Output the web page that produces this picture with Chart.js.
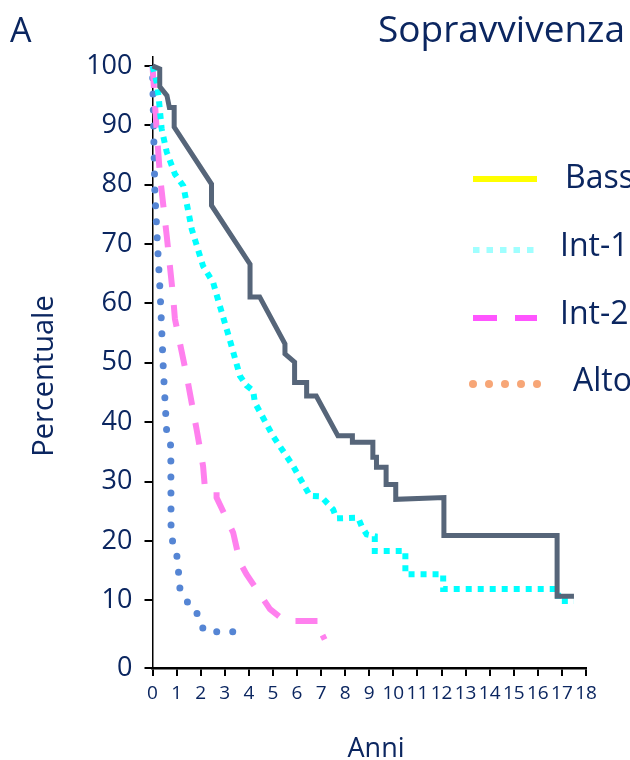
<!DOCTYPE html>
<html>
<head>
<meta charset="utf-8">
<script src="https://cdn.jsdelivr.net/npm/chart.js@4"></script>
<style>
  body { margin: 0; background: #fff; }
  canvas { display: block; }
</style>
</head>
<body>
<canvas id="chart" width="630" height="760"></canvas>
<script>
// survival curves, years (x) vs percent (y)
const bassX = [0, 0.3, 0.3, 0.6, 0.7, 0.9, 0.9, 2.45, 2.45, 4.05, 4.05, 4.45, 5.5, 5.5, 5.9, 5.9, 6.4, 6.4, 6.8, 7.7, 8.3, 8.3, 9.15, 9.15, 9.3, 9.3, 9.7, 9.7, 10.1, 10.1, 12.1, 12.1, 16.8, 16.8, 17.5];
const bassY = [100, 99.5, 96.5, 95, 93, 93, 89.7, 80.1, 76.5, 66.6, 61.1, 61.1, 53.2, 51.5, 50.1, 46.7, 46.7, 44.4, 44.4, 37.7, 37.7, 36.6, 36.6, 34.1, 34.1, 32.4, 32.4, 29.5, 29.5, 27.0, 27.3, 20.9, 20.9, 10.7, 10.7];

const int1X = [0, 0.17, 0.25, 0.38, 0.59, 0.93, 1.28, 1.63, 2.1, 2.52, 2.73, 3.2, 3.63, 3.9, 4.18, 4.25, 5.0, 5.84, 6.54, 7.0, 7.5, 7.64, 8.54, 8.68, 8.89, 9.23, 9.23, 10.5, 10.5, 12.07, 12.07, 16.84, 16.84, 17.5];
const int1Y = [100, 97.3, 95, 89.4, 85.5, 81.8, 79.8, 72.5, 66.3, 63.5, 60.5, 54, 47.8, 46.2, 45.3, 43.3, 37.7, 32.6, 27.6, 27.5, 25.3, 23.8, 23.9, 22.5, 21.1, 20.8, 18.3, 18.3, 14.4, 14.4, 11.9, 11.9, 9.9, 9.9];

const int2X = [0, 0.17, 0.31, 0.59, 0.86, 0.93, 1.42, 1.83, 2.1, 2.18, 2.66, 2.66, 3.35, 3.63, 3.9, 4.88, 5.5, 7.0, 7.0, 7.15];
const int2Y = [100, 89.4, 81.5, 71.4, 61, 57.4, 47.8, 38.8, 32.6, 28.7, 28.4, 27.3, 21.4, 16.4, 14.4, 8.5, 6.5, 6.5, 4.6, 3.4];

const altoX = [0, 0.06, 0.1, 0.2, 0.31, 0.34, 0.45, 0.59, 0.76, 0.77, 0.84, 1.03, 1.14, 1.39, 1.79, 1.93, 2.18, 3.49, 3.7];
const altoY = [100, 86.6, 78.6, 70.5, 62.4, 59.7, 48.9, 38.3, 36, 22.5, 19.7, 17.2, 11.9, 9.9, 8.8, 6.4, 4.7, 4.7, 2.9];

const seriesNames = ["Bass", "Int-1", "Int-2", "Alto"];
const xTickValues = [0, 1, 2, 3, 4, 5, 6, 7, 8, 9, 10, 11, 12, 13, 14, 15, 16, 17, 18];
const yTickValues = [0, 10, 20, 30, 40, 50, 60, 70, 80, 90, 100];

const NAVY = "#0b2660";
const FONT = "'Open Sans', 'Noto Sans', sans-serif";
const Y_MIN = -1.4;  // the zero tick sits on the x axis, a bit below the even spacing

function zip(xs, ys) {
  return xs.map((x, i) => ({ x: x, y: ys[i] }));
}

// titles and the legend are drawn by hand: legend colours differ from the lines
const decorations = {
  id: "decorations",
  afterDraw(chart) {
    const ctx = chart.ctx;
    ctx.save();
    ctx.fillStyle = NAVY;
    ctx.textBaseline = "alphabetic";
    ctx.textAlign = "left";

    ctx.font = "34px " + FONT;
    ctx.fillText("A", 10, 42);
    ctx.font = "37px " + FONT;
    ctx.fillText("Sopravvivenza", 378, 42);

    ctx.font = "27px " + FONT;
    ctx.textAlign = "center";
    ctx.fillText("Anni", 376, 757);

    ctx.save();
    ctx.translate(53, 376);
    ctx.rotate(-Math.PI / 2);
    ctx.font = "29px " + FONT;
    ctx.fillText("Percentuale", 0, 0);
    ctx.restore();

    // legend
    const x0 = 473, x1 = 537;
    const rows = [188, 256, 324, 391];
    const textX = [565, 560, 560, 573];
    ctx.lineWidth = 6;

    ctx.strokeStyle = "#ffff00";
    ctx.beginPath(); ctx.moveTo(x0, rows[0] - 9); ctx.lineTo(x1, rows[0] - 9); ctx.stroke();

    ctx.strokeStyle = "#a0ffff";
    ctx.setLineDash([6.5, 7]);
    ctx.beginPath(); ctx.moveTo(x0, rows[1] - 6); ctx.lineTo(x1, rows[1] - 6); ctx.stroke();

    ctx.strokeStyle = "#ff55ff";
    ctx.setLineDash([24, 18]);
    ctx.beginPath(); ctx.moveTo(x0, rows[2] - 6); ctx.lineTo(x1, rows[2] - 6); ctx.stroke();
    ctx.setLineDash([]);

    ctx.fillStyle = "#f7a677";
    for (let i = 0; i < 5; i++) {
      ctx.beginPath();
      ctx.arc(x0 + i * 16, rows[3] - 7, 4, 0, Math.PI * 2);
      ctx.fill();
    }

    ctx.fillStyle = NAVY;
    ctx.textAlign = "left";
    ctx.font = "32px " + FONT;
    seriesNames.forEach((name, i) => ctx.fillText(name, textX[i], rows[i]));
    ctx.restore();
  }
};

new Chart(document.getElementById("chart"), {
  type: "line",
  data: {
    datasets: [
      {
        label: seriesNames[0],
        data: zip(bassX, bassY),
        borderColor: "#566579",
        borderWidth: 5,
        borderJoinStyle: "miter"
      },
      {
        label: seriesNames[1],
        data: zip(int1X, int1Y),
        borderColor: "#00ffff",
        borderWidth: 6,
        borderDash: [6, 6]
      },
      {
        label: seriesNames[2],
        data: zip(int2X, int2Y),
        borderColor: "#ff80ee",
        borderWidth: 6,
        borderDash: [22, 18]
      },
      {
        label: seriesNames[3],
        data: zip(altoX, altoY),
        borderColor: "#5585d4",
        borderWidth: 7,
        borderDash: [0, 16],
        borderDashOffset: 4,
        borderCapStyle: "round"
      }
    ]
  },
  options: {
    responsive: false,
    animation: false,
    events: [],
    layout: { padding: { left: 0, right: 44, top: 57, bottom: 52 } },
    elements: {
      point: { radius: 0 },
      line: { tension: 0, fill: false }
    },
    datasets: { line: { clip: false } },
    plugins: {
      legend: { display: false },
      tooltip: { enabled: false }
    },
    scales: {
      x: {
        type: "linear",
        min: 0,
        max: 18,
        afterBuildTicks: (s) => { s.ticks = xTickValues.map(v => ({ value: v })); },
        afterFit: (s) => { s.height = 40; },
        ticks: {
          autoSkip: false,
          maxRotation: 0,
          padding: 6,
          color: NAVY,
          font: { family: FONT, size: 19 }
        },
        grid: { drawOnChartArea: false, color: "#000", lineWidth: 2, tickLength: 8 },
        border: { color: "#000", width: 2.5 }
      },
      y: {
        type: "linear",
        min: Y_MIN,
        max: 101.5,
        afterBuildTicks: (s) => { s.ticks = yTickValues.map(v => ({ value: v === 0 ? Y_MIN : v })); },
        afterFit: (s) => { s.width = 152.5; },
        ticks: {
          padding: 12,
          color: NAVY,
          font: { family: FONT, size: 27 },
          callback: (v, i) => String(yTickValues[i])
        },
        grid: { drawOnChartArea: false, color: "#000", lineWidth: 2, tickLength: 8 },
        border: { color: "#000", width: 1.5 }
      }
    }
  },
  plugins: [decorations]
});
</script>
</body>
</html>
